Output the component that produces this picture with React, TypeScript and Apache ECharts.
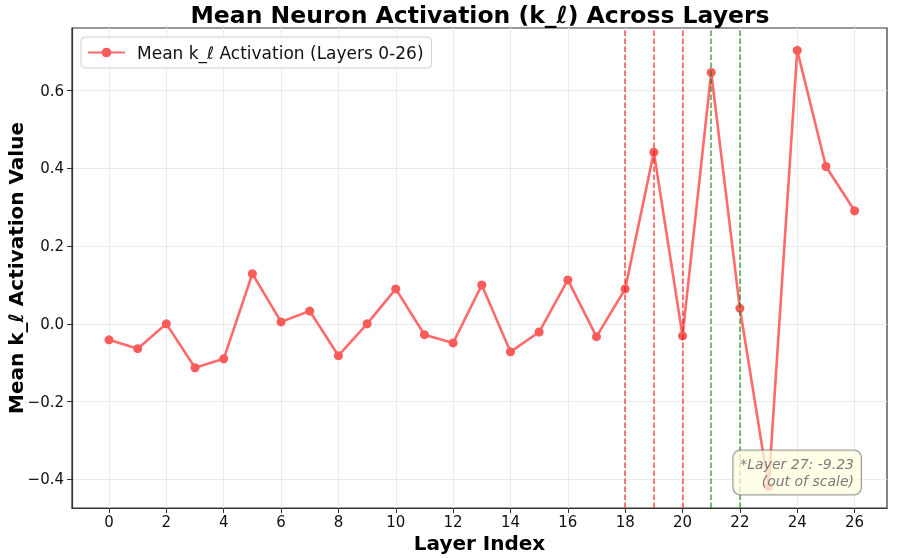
import React, { useEffect, useRef } from "react";
import * as echarts from "echarts";

const layers = [0,1,2,3,4,5,6,7,8,9,10,11,12,13,14,15,16,17,18,19,20,21,22,23,24,25,26];
const activations = [-0.041,-0.064,0.0,-0.113,-0.090,0.129,0.005,0.033,-0.082,0.0,0.090,-0.028,-0.049,0.100,-0.072,-0.021,0.113,-0.033,0.090,0.442,-0.031,0.647,0.040,-0.419,0.704,0.405,0.291];
const redLines = [18, 19, 20];
const greenLines = [21, 22];
const xTicks = [0,2,4,6,8,10,12,14,16,18,20,22,24,26];
const yTicks = [-0.4,-0.2,0.0,0.2,0.4,0.6];

const FONT = "DejaVu Sans";

export default function App() {
  const ref = useRef<HTMLDivElement>(null);
  useEffect(() => {
    document.body.style.margin = "0";
    const chart = echarts.init(ref.current!, null, { renderer: "svg" });
    const markData: any[] = [
      ...redLines.map((x) => ({ xAxis: x, lineStyle: { color: "rgba(255,0,0,0.7)" } })),
      ...greenLines.map((x) => ({ xAxis: x, lineStyle: { color: "rgba(0,128,0,0.7)" } })),
    ];
    chart.setOption({
      animation: false,
      textStyle: { fontFamily: FONT },
      grid: { left: 72, top: 28, right: 10, bottom: 50, outerBoundsMode: "none", containLabel: false, show: true, borderColor: "#333", borderWidth: 1.2 },
      legend: {
        left: 81, top: 37,
        data: ["Mean k_ℓ Activation (Layers 0-26)"],
        itemWidth: 37, itemHeight: 12, itemGap: 10,
        textStyle: { fontFamily: FONT, fontSize: 17, color: "#111", padding: [0, 0, 0, 7] },
        backgroundColor: "rgba(255,255,255,0.8)",
        borderColor: "#d0d0d0", borderWidth: 1, borderRadius: 4,
        padding: [7, 8, 7, 6],
      },
      xAxis: {
        type: "value", min: -1.29, max: 27.13,
        name: "Layer Index", nameLocation: "middle", nameGap: 25, nameMoveOverlap: false,
        nameTextStyle: { fontFamily: FONT, fontSize: 20, lineHeight: 20, fontWeight: "bold", color: "#000" },
        axisLine: { show: true, onZero: false, lineStyle: { color: "#333", width: 1.2 } },
        axisTick: { show: true, length: 5, customValues: xTicks, lineStyle: { color: "#333" } },
        axisLabel: { customValues: xTicks, fontSize: 15, lineHeight: 15, color: "#111", margin: 6, fontFamily: FONT, formatter: (v: number) => String(v) },
        splitLine: { show: true, lineStyle: { color: "#ebebeb", width: 1 } },
      },
      yAxis: {
        type: "value", min: -0.474, max: 0.7615,
        name: "Mean k_ℓ Activation Value", nameLocation: "middle", nameGap: 46, nameMoveOverlap: false,
        nameTextStyle: { fontFamily: FONT, fontSize: 20, fontWeight: "bold", color: "#000" },
        axisLine: { show: true, onZero: false, lineStyle: { color: "#333", width: 1.2 } },
        axisTick: { show: true, length: 5, customValues: yTicks, lineStyle: { color: "#333" } },
        axisLabel: {
          customValues: yTicks, fontSize: 15, color: "#111", margin: 8, fontFamily: FONT,
          formatter: (v: number) => (v < -1e-9 ? "\u2212" : "") + Math.abs(v).toFixed(1),
        },
        splitLine: { show: true, lineStyle: { color: "#ebebeb", width: 1 } },
      },
      series: [
        {
          name: "Mean k_ℓ Activation (Layers 0-26)",
          type: "line",
          data: layers.map((l, i) => [l, activations[i]]),
          symbol: "circle", symbolSize: 9,
          lineStyle: { color: "#ff6b6b", width: 2.6 },
          itemStyle: { color: "#fa5c5c" },
          z: 2,
          markLine: {
            silent: true, symbol: ["none", "none"], label: { show: false },
            lineStyle: { type: [5.5, 2.5], width: 1.5 },
            emphasis: { disabled: true },
            data: markData,
            z: 3,
          },
        },
      ],
      graphic: [
        {
          type: "text", x: 480, y: 15, z: 10,
          style: { text: "Mean Neuron Activation (k_ℓ) Across Layers", font: `bold 23.5px "${FONT}"`, fill: "#000", align: "center", verticalAlign: "middle" },
        },
        {
          type: "text", x: 861, y: 472.5, z: 20,
          style: {
            text: "*Layer 27: -9.23\n(out of scale)",
            font: `italic 14px "${FONT}"`, fill: "#7a7a7a", align: "right", verticalAlign: "middle", lineHeight: 17,
            backgroundColor: "rgba(255,255,224,0.75)", borderColor: "rgba(110,110,110,0.7)", borderWidth: 1, borderRadius: 7,
            padding: [5, 7, 5, 7],
          },
        },
      ],
    });
    return () => chart.dispose();
  }, []);
  return <div ref={ref} style={{ position: "fixed", left: 0, top: 0, width: 897, height: 558 }} />;
}
